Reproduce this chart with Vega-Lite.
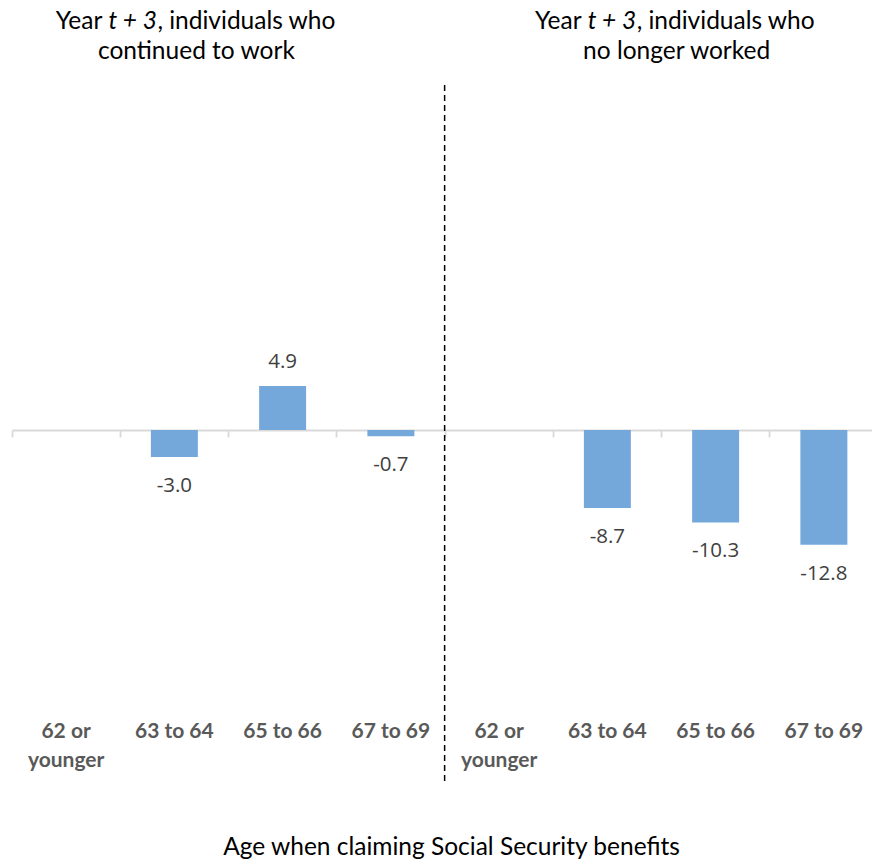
{
  "$schema": "https://vega.github.io/schema/vega-lite/v6.json",
  "width": 866,
  "height": 630,
  "autosize": {"type": "none"},
  "padding": {"left": 12, "top": 85, "right": -6, "bottom": 148},
  "config": {
    "view": {"stroke": null},
    "locale": {"number": {"decimal": ".", "thousands": ",", "grouping": [3], "currency": ["$", ""], "minus": "-"}}
  },
  "data": {
    "values": [
      {"cat": "L:62 or|younger", "value": null},
      {"cat": "L:63 to 64", "value": -3.0},
      {"cat": "L:65 to 66", "value": 4.9},
      {"cat": "L:67 to 69", "value": -0.7},
      {"cat": "R:62 or|younger", "value": null},
      {"cat": "R:63 to 64", "value": -8.7},
      {"cat": "R:65 to 66", "value": -10.3},
      {"cat": "R:67 to 69", "value": -12.8}
    ]
  },
  "resolve": {"axis": {"x": "independent"}},
  "layer": [
    {
      "mark": {"type": "bar", "color": "#75A8DA"},
      "encoding": {
        "x": {
          "field": "cat", "type": "nominal", "sort": null,
          "scale": {"domain": ["L:62 or|younger", "L:63 to 64", "L:65 to 66", "L:67 to 69", "R:62 or|younger", "R:63 to 64", "R:65 to 66", "R:67 to 69"], "paddingInner": 0.566, "paddingOuter": 0.283},
          "axis": {
            "orient": "bottom", "domain": false, "ticks": false, "grid": false,
            "labelAngle": 0,
            "labelExpr": "split(slice(datum.label, 2), '|')",
            "labelFont": "Lato", "labelFontWeight": "bold", "labelFontSize": 21, "labelColor": "#595959",
            "labelLineHeight": 29, "labelPadding": 5, "labelBaseline": "top",
            "title": "Age when claiming Social Security benefits",
            "titleFont": "Lato", "titleFontSize": 24.5, "titleFontWeight": "normal", "titleColor": "#000000",
            "titlePadding": 65, "titleX": 439
          }
        },
        "y": {
          "field": "value", "type": "quantitative",
          "scale": {"domain": [-31.77, 38.46], "nice": false, "zero": false},
          "axis": null
        }
      }
    },
    {
      "transform": [{"filter": "datum.value > 0"}],
      "mark": {"type": "text", "font": "Open Sans", "fontSize": 20.5, "color": "#404040", "baseline": "alphabetic", "dy": -18},
      "encoding": {
        "x": {
          "field": "cat", "type": "nominal", "sort": null,
          "axis": {
            "orient": "bottom", "offset": -285, "labels": false, "title": null, "grid": false,
            "domain": true, "domainColor": "#D9D9D9", "domainWidth": 1.8,
            "ticks": true, "tickColor": "#D9D9D9", "tickWidth": 1.8, "tickSize": 7, "bandPosition": -0.652
          }
        },
        "y": {"field": "value", "type": "quantitative"},
        "text": {"field": "value", "type": "quantitative", "format": ".1f"}
      }
    },
    {
      "transform": [{"filter": "datum.value < 0"}],
      "mark": {"type": "text", "font": "Open Sans", "fontSize": 20.5, "color": "#404040", "baseline": "alphabetic", "dy": 35},
      "encoding": {
        "x": {"field": "cat", "type": "nominal", "sort": null, "axis": null},
        "y": {"field": "value", "type": "quantitative"},
        "text": {"field": "value", "type": "quantitative", "format": ".1f"}
      }
    },
    {
      "data": {"values": [{}]},
      "mark": {"type": "rule", "color": "#000000", "strokeWidth": 1.5, "strokeDash": [6, 4]},
      "encoding": {
        "x": {"datum": "R:62 or|younger", "bandPosition": -0.66, "axis": null},
        "y": {"datum": 38.46},
        "y2": {"datum": -39.58}
      }
    },
    {
      "data": {"values": [{}]},
      "mark": {"type": "text", "text": "Year", "align": "right", "baseline": "alphabetic", "font": "Lato", "fontSize": 24.5, "color": "#000000", "dx": -72},
      "encoding": {"x": {"datum": "L:63 to 64", "axis": null}, "y": {"datum": 44.7}}
    },
    {
      "data": {"values": [{}]},
      "mark": {"type": "text", "text": "t + 3", "align": "left", "baseline": "alphabetic", "font": "Lato", "fontStyle": "italic", "fontSize": 24.5, "color": "#000000", "dx": -66},
      "encoding": {"x": {"datum": "L:63 to 64", "axis": null}, "y": {"datum": 44.7}}
    },
    {
      "data": {"values": [{}]},
      "mark": {"type": "text", "text": ", individuals who", "align": "left", "baseline": "alphabetic", "font": "Lato", "fontSize": 24.5, "color": "#000000", "dx": -17},
      "encoding": {"x": {"datum": "L:63 to 64", "axis": null}, "y": {"datum": 44.7}}
    },
    {
      "data": {"values": [{}]},
      "mark": {"type": "text", "text": "continued to work", "align": "center", "baseline": "alphabetic", "font": "Lato", "fontSize": 24.5, "color": "#000000", "dx": 22},
      "encoding": {"x": {"datum": "L:63 to 64", "axis": null}, "y": {"datum": 41.4}}
    },
    {
      "data": {"values": [{}]},
      "mark": {"type": "text", "text": "Year", "align": "right", "baseline": "alphabetic", "font": "Lato", "fontSize": 24.5, "color": "#000000", "dx": -134},
      "encoding": {"x": {"datum": "R:65 to 66", "axis": null}, "y": {"datum": 44.7}}
    },
    {
      "data": {"values": [{}]},
      "mark": {"type": "text", "text": "t + 3", "align": "left", "baseline": "alphabetic", "font": "Lato", "fontStyle": "italic", "fontSize": 24.5, "color": "#000000", "dx": -128},
      "encoding": {"x": {"datum": "R:65 to 66", "axis": null}, "y": {"datum": 44.7}}
    },
    {
      "data": {"values": [{}]},
      "mark": {"type": "text", "text": ", individuals who", "align": "left", "baseline": "alphabetic", "font": "Lato", "fontSize": 24.5, "color": "#000000", "dx": -79},
      "encoding": {"x": {"datum": "R:65 to 66", "axis": null}, "y": {"datum": 44.7}}
    },
    {
      "data": {"values": [{}]},
      "mark": {"type": "text", "text": "no longer worked", "align": "center", "baseline": "alphabetic", "font": "Lato", "fontSize": 24.5, "color": "#000000", "dx": -39},
      "encoding": {"x": {"datum": "R:65 to 66", "axis": null}, "y": {"datum": 41.4}}
    }
  ]
}
